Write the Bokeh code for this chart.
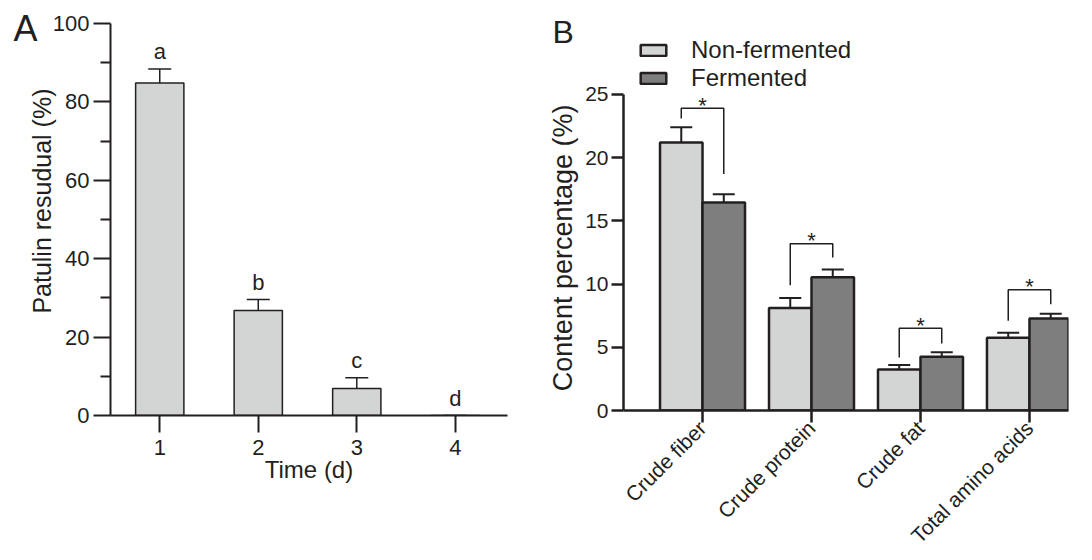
import math
from bokeh.plotting import figure
from bokeh.layouts import row
from bokeh.models import (FixedTicker, Whisker, ColumnDataSource, Legend,
                          LegendItem, TeeHead, Title, Label)
from bokeh.embed import file_html
from bokeh.resources import INLINE
from bokeh.core.properties import value

# ---------------- Panel A data ----------------
days = [1, 2, 3, 4]
patulin = [84.8, 26.8, 6.9, 0.0]
patulin_err = [3.6, 2.8, 2.7, 0.0]
letters = ["a", "b", "c", "d"]

# ---------------- Panel B data ----------------
nutrients = ["Crude fiber", "Crude protein", "Crude fat", "Total amino acids"]
nonfermented = [21.2, 8.1, 3.25, 5.75]
nonfermented_err = [1.2, 0.8, 0.35, 0.4]
fermented = [16.45, 10.55, 4.25, 7.27]
fermented_err = [0.65, 0.6, 0.35, 0.38]
sig_marks = ["*", "*", "*", "*"]
bracket_top = [23.9, 13.2, 6.5, 9.55]
bracket_left_end = [23.1, 9.9, 4.2, 7.1]
bracket_right_end = [18.7, 12.1, 5.3, 8.4]

FONT = "Liberation Sans"
INK = "#231f20"
LIGHT = "#d3d5d4"
DARK = "#7e7e7e"


def style_axes(p, width, tick_out, label_size):
    for ax in p.axis:
        ax.axis_line_color = INK
        ax.axis_line_width = width
        ax.major_tick_line_color = INK
        ax.major_tick_line_width = width
        ax.major_tick_in = 0
        ax.major_tick_out = tick_out
        ax.minor_tick_line_color = INK
        ax.minor_tick_line_width = width
        ax.minor_tick_in = 0
        ax.minor_tick_out = 10
        ax.major_label_text_font = FONT
        ax.major_label_text_font_size = label_size
        ax.major_label_text_color = INK
        ax.major_label_standoff = 4
        ax.axis_label_text_font = FONT
        ax.axis_label_text_font_style = "normal"
        ax.axis_label_text_color = INK


# ================= Panel A =================
pa = figure(width=540, height=560, x_range=(0.5, 4.53), y_range=(0, 100),
            output_backend="svg", toolbar_location=None,
            min_border_left=110, min_border_right=33,
            min_border_top=23, min_border_bottom=145)
pa.outline_line_color = None
pa.xgrid.visible = False
pa.ygrid.visible = False

src_a = ColumnDataSource(dict(
    x=days, top=patulin,
    upper=[v + e for v, e in zip(patulin, patulin_err)],
    label=letters))

pa.vbar(x="x", top="top", width=0.49, fill_color=LIGHT, line_color=INK,
        line_width=1.5, source=src_a)
pa.add_layout(Whisker(base="x", upper="upper", lower="top", source=src_a,
                      dimension="height", line_color=INK, line_width=1.5,
                      upper_head=TeeHead(size=23, line_color=INK, line_width=1.5),
                      lower_head=None))
pa.text(x="x", y="upper", text="label", source=src_a, text_align="center",
        text_baseline="alphabetic", y_offset=-17, text_font=value(FONT),
        text_font_size="22px", text_color=INK)

style_axes(pa, 2, 17, "22px")
pa.xaxis.ticker = FixedTicker(ticks=days)
pa.xaxis.major_label_standoff = 7
pa.yaxis.ticker = FixedTicker(ticks=[0, 20, 40, 60, 80, 100],
                              minor_ticks=[10, 30, 50, 70, 90])
pa.xaxis.axis_label = "Time (d)"
pa.xaxis.axis_label_text_font_size = "24px"
pa.xaxis.axis_label_standoff = -2

ylab_a = Title(text="Patulin resudual (%)", align="right", offset=65,
               text_font=FONT, text_font_size="25px",
               text_font_style="normal", text_color=INK)
try:
    ylab_a.standoff = -12
except Exception:
    ylab_a.standoff = 0
pa.add_layout(ylab_a, "left")

pa.add_layout(Label(x=-0.485, y=98.6, text="A", text_align="left",
                    text_baseline="alphabetic", text_font=FONT,
                    text_font_size="36px", text_color=INK), "right")

# ================= Panel B =================
idx = [1, 2, 3, 4]
off = 0.195
bw = 0.39
x_non = [i - off for i in idx]
x_fer = [i + off for i in idx]

# frame reaches above the 25 % tick so that the legend sits inside it
pb = figure(width=552, height=560, x_range=(0.275, 4.358), y_range=(0, 30.06),
            output_backend="svg", toolbar_location=None,
            min_border_left=83, min_border_right=24,
            min_border_top=30, min_border_bottom=150)
pb.outline_line_color = None
pb.xgrid.visible = False
pb.ygrid.visible = False

src_n = ColumnDataSource(dict(x=x_non, top=nonfermented,
                              upper=[v + e for v, e in zip(nonfermented, nonfermented_err)]))
src_f = ColumnDataSource(dict(x=x_fer, top=fermented,
                              upper=[v + e for v, e in zip(fermented, fermented_err)]))

r_non = pb.vbar(x="x", top="top", width=bw, fill_color=LIGHT, line_color=INK,
                line_width=2.5, source=src_n)
r_fer = pb.vbar(x="x", top="top", width=bw, fill_color=DARK, line_color=INK,
                line_width=2.5, source=src_f)
for s in (src_n, src_f):
    pb.add_layout(Whisker(base="x", upper="upper", lower="top", source=s,
                          dimension="height", line_color=INK, line_width=2,
                          upper_head=TeeHead(size=22, line_color=INK, line_width=2),
                          lower_head=None))

pb.multi_line(xs=[[a, a, b, b] for a, b in zip(x_non, x_fer)],
              ys=[[l, t, t, r] for l, t, r in zip(bracket_left_end, bracket_top, bracket_right_end)],
              line_color=INK, line_width=1.5)
pb.text(x=idx, y=bracket_top, text=sig_marks, text_align="center",
        text_baseline="alphabetic", y_offset=-3, text_font=value(FONT),
        text_font_size="22px", text_color=INK)

style_axes(pb, 2.5, 12, "21px")
pb.xaxis.ticker = FixedTicker(ticks=idx)
pb.xaxis.major_label_overrides = {i: n for i, n in zip(idx, nutrients)}
pb.xaxis.major_label_orientation = math.pi / 4
pb.xaxis.major_label_text_font_size = "21px"
pb.xaxis.major_tick_out = 12
pb.xaxis.major_label_standoff = 2
pb.yaxis.ticker = FixedTicker(ticks=[0, 5, 10, 15, 20, 25])
pb.yaxis.bounds = (0, 25)
pb.yaxis.major_label_standoff = 3

ylab_b = Title(text="Content percentage (%)", align="right", offset=74,
               standoff=10, text_font=FONT, text_font_size="27px",
               text_font_style="normal", text_color=INK)
pb.add_layout(ylab_b, "left")

leg = Legend(items=[LegendItem(label="Non-fermented", renderers=[r_non]),
                    LegendItem(label="Fermented", renderers=[r_fer])],
             location=(14, 318), orientation="vertical",
             glyph_width=32, glyph_height=14, label_standoff=22,
             label_text_font=FONT, label_text_font_size="24px",
             label_text_color=INK, border_line_color=None,
             background_fill_alpha=0, padding=0, margin=0)
try:
    leg.spacing = -3
except Exception:
    leg.spacing = 0
pb.add_layout(leg)

pb.add_layout(Label(x=-0.376, y=29.94, text="B", text_align="left",
                    text_baseline="alphabetic", text_font=FONT,
                    text_font_size="32px", text_color=INK), "right")

for p in (pa, pb):
    if "frame_align" in p.properties():
        p.frame_align = False

layout = row(pa, pb)
open("out.html", "w").write(file_html(layout, INLINE))
